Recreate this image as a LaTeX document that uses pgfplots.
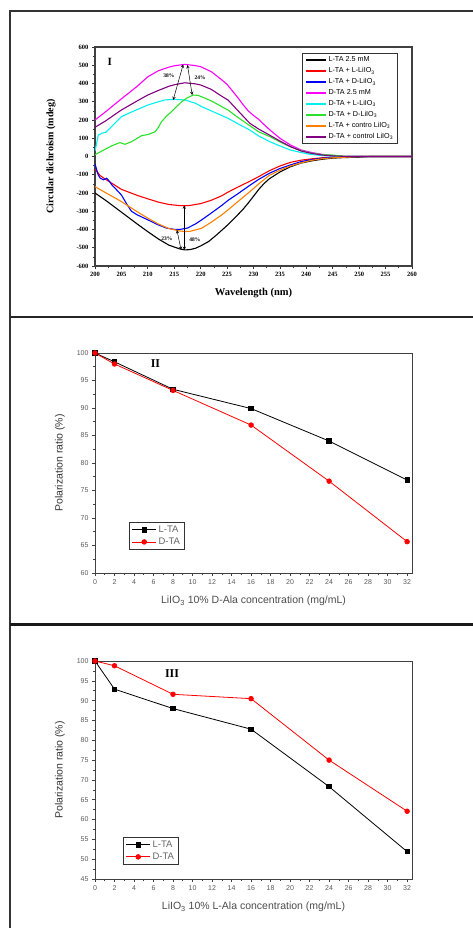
\documentclass[border=0pt]{standalone}
\usepackage{fontspec}
\setmainfont{Liberation Serif}
\setsansfont{Liberation Sans}
\usepackage{pgfplots}
\pgfplotsset{compat=1.18}
\definecolor{cdgreen}{RGB}{40,225,40}
\definecolor{cdorange}{RGB}{255,128,0}
\definecolor{cdpurple}{RGB}{128,0,128}
\definecolor{cdcyan}{RGB}{0,240,240}
\definecolor{cdmag}{RGB}{255,0,255}

\pgfplotsset{
  cdlegend/.style={
    legend image code/.code={\draw[##1, line width=2pt] (0pt,0pt) -- (20pt,0pt);}},
  pollegend/.style={
    legend image code/.code={
      \draw[mark repeat=2,mark phase=2,##1] plot coordinates {(0pt,0pt) (12pt,0pt) (24pt,0pt)};}},
  polstyle/.style={
    width=317pt, scale only axis, anchor=south west,
    xmin=0, xmax=32.5,
    xtick={0,2,...,32}, minor x tick num=1,
    minor y tick num=1,
    tick align=outside, tick pos=left,
    axis line style={line width=0.8pt, black!75},
    major tick length=3pt, minor tick length=1.8pt,
    every tick/.style={black!75, line width=0.6pt},
    tick label style={font=\fontsize{7}{8}\sffamily, text=black!65},
    /pgf/number format/assume math mode=true,
    xlabel style={font=\fontsize{10.5}{11}\sffamily, text=black!70,
      at={([yshift=-28pt]axis description cs:0.5,0)}, anchor=center},
    ylabel style={font=\fontsize{10.5}{11}\sffamily, text=black!80,
      at={([xshift=-35pt]axis description cs:0,0.5)}, anchor=center},
    legend style={font=\fontsize{9.5}{10}\sffamily, text=black!60, draw=black!80,
      fill=white, line width=0.8pt, inner xsep=2.5pt, inner ysep=1.5pt, row sep=0pt,
      cells={anchor=west}},
    pollegend,
  },
}

\begin{document}
\begin{tikzpicture}[x=1pt,y=1pt]
\useasboundingbox (0,0) rectangle (473,-928);
\draw[line width=1.4pt, black!80] (10,-928) -- (10,-11) -- (473,-11);
\draw[line width=2pt, black!85] (10,-317) -- (473,-317);
\draw[line width=3pt, black!90] (10,-624) -- (473,-624);

% ---------- panel I ----------
\begin{axis}[
  at={(95pt,-266pt)}, anchor=south west,
  width=317pt, height=219pt, scale only axis,
  xmin=200, xmax=260, ymin=-600, ymax=600,
  xtick={200,205,...,260}, ytick={-600,-500,...,600},
  minor x tick num=1, minor y tick num=1,
  tick align=outside, tick pos=left,
  axis line style={line width=1.2pt, black!75},
  major tick length=3pt, minor tick length=1.8pt,
  every tick/.style={black!80, line width=0.7pt},
  tick label style={font=\fontsize{6.5}{7}\selectfont\bfseries},
  /pgf/number format/assume math mode=true,
  xlabel={Wavelength (nm)}, ylabel={Circular dichroism (mdeg)},
  xlabel style={font=\fontsize{10.5}{11}\selectfont\bfseries,
    at={([yshift=-27pt]axis description cs:0.5,0)}, anchor=center},
  ylabel style={font=\fontsize{10}{11}\selectfont\bfseries,
    at={([xshift=-44pt]axis description cs:0,0.5)}, anchor=center},
  legend style={at={(axis description cs:0.653,0.973)}, anchor=north west,
    font=\fontsize{7.2}{7.5}\sffamily, draw=black!80, fill=white, line width=1pt,
    inner xsep=2pt, inner ysep=1.5pt, row sep=0.3pt, cells={anchor=west}},
  cdlegend,
]
\addplot[line width=1.1pt, black] coordinates {(200,-200)(202,-240)(205,-305)(208,-370)(210,-412)(212,-452)(214,-486)(216,-506)(217,-512)(218,-510)(219,-503)(220,-490)(221.5,-466)(223,-430)(225,-378)(227,-320)(228,-290)(229,-255)(230,-218)(231,-180)(232,-148)(233,-122)(235,-85)(237,-56)(239,-36)(241,-24)(243,-15)(245,-9)(247,-6)(250,-4)(251,-2)(252,0)(260,0)};
\addlegendentry{L-TA 2.5 mM}
\addplot[line width=1.1pt, red] coordinates {(200,-70)(201,-105)(202,-125)(205,-180)(208,-213)(210,-232)(212,-250)(214,-263)(216,-269)(217,-270)(218,-268)(220,-258)(222,-240)(224,-215)(225,-198)(227,-168)(229,-140)(231,-110)(233,-78)(235,-52)(237,-32)(239,-20)(241,-13)(243,-7)(245,-3)(247,0)(260,0)};
\addlegendentry{L-TA + L-LiIO\textsubscript{3}}
\addplot[line width=1.1pt, blue] coordinates {(200,-40)(200.3,-70)(200.6,-100)(201,-119)(201.6,-128)(202.2,-119)(202.7,-135)(203.2,-156)(204,-180)(205,-211)(206,-260)(206.9,-300)(208,-320)(210,-347)(212,-375)(213.5,-392)(215,-399)(216,-400)(217.5,-392)(219,-370)(220.2,-347)(222,-310)(224,-268)(225.2,-240)(227,-205)(229.3,-158)(231,-125)(233,-92)(235,-66)(237,-46)(239,-28)(241,-17)(243,-9)(245,-4)(247,-1)(248,0)(260,0)};
\addlegendentry{L-TA + D-LiIO\textsubscript{3}}
\addplot[line width=1.1pt, cdmag] coordinates {(200,200)(202,245)(205,316)(208,385)(210,437)(212,470)(214,490)(215,497)(217,505)(219,498)(220,492)(222,465)(224,420)(225,395)(227,324)(228,285)(229,250)(230,225)(231,203)(232,175)(233,148)(235,100)(237,63)(239,36)(241,22)(243,12)(245,5)(247,1)(248,0)(260,0)};
\addlegendentry{D-TA 2.5 mM}
\addplot[line width=1.1pt, cdcyan] coordinates {(200,30)(200.3,70)(200.6,117)(201.3,128)(202,132)(203,160)(205,218)(207,245)(210,282)(212,300)(213.2,310)(215,313)(217,310)(219,292)(220.2,273)(222,250)(225.2,209)(227,180)(229.3,145)(231,112)(233.1,81)(235,58)(236.9,36)(239,22)(240.7,12)(243,5)(245,2)(247,0)(260,0)};
\addlegendentry{D-TA + L-LiIO\textsubscript{3}}
\addplot[line width=1.1pt, cdgreen] coordinates {(200,10)(201.3,30)(203.2,59)(204.7,76)(205.7,67)(206.9,81)(208,100)(208.8,114)(210.1,121)(211.4,136)(212,160)(212.6,191)(213.5,220)(214.5,246)(215.5,275)(216.4,300)(217.5,322)(218.6,337)(219.5,335)(220.2,327)(222,305)(225.2,254)(227,215)(229.3,169)(231,135)(233.1,109)(235,80)(236.9,54)(239,32)(240.7,20)(243,10)(245,8)(247,2)(248,0)(260,0)};
\addlegendentry{D-TA + D-LiIO\textsubscript{3}}
\addplot[line width=1.1pt, cdorange] coordinates {(200,-165)(202,-198)(205,-247)(208,-303)(210,-338)(212,-370)(214,-395)(216,-408)(217,-411)(218,-410)(220.2,-393)(222,-360)(224,-320)(225.2,-292)(227,-248)(229.3,-193)(231,-150)(233,-103)(235,-75)(237,-52)(239,-35)(241,-21)(243,-12)(245,-7)(248,-3)(250,0)(260,0)};
\addlegendentry{L-TA + contro LiIO\textsubscript{3}}
\addplot[line width=1.1pt, cdpurple] coordinates {(200,160)(202,195)(205,255)(208,305)(210,337)(212,362)(214,385)(215,393)(217,404)(219,398)(220,392)(222,368)(224,330)(225.2,309)(227,253)(229.3,182)(231,150)(233,118)(235,85)(237,54)(239,30)(241,17)(243,8)(245,3)(247,1)(249,0)(260,0)};
\addlegendentry{D-TA + control LiIO\textsubscript{3}}
% annotations
\draw[<->, >=stealth, line width=0.5pt] (axis cs:216.7,505) -- (axis cs:214.8,310);
\draw[<->, >=stealth, line width=0.5pt] (axis cs:217.5,501) -- (axis cs:218.4,337);
\draw[<->, >=stealth, line width=0.5pt] (axis cs:216.9,-268) -- (axis cs:216.9,-512);
\draw[<->, >=stealth, line width=0.5pt] (axis cs:215.5,-403) -- (axis cs:216.3,-512);
\node[font=\fontsize{5.5}{6}\selectfont\bfseries] at (axis cs:214.0,443) {38\%};
\node[font=\fontsize{5.5}{6}\selectfont\bfseries] at (axis cs:219.9,430) {24\%};
\node[font=\fontsize{5.5}{6}\selectfont\bfseries] at (axis cs:213.6,-448) {23\%};
\node[font=\fontsize{5.5}{6}\selectfont\bfseries] at (axis cs:218.9,-457) {48\%};
\node[font=\fontsize{11}{12}\selectfont\bfseries] at (axis cs:202.8,518) {I};
\end{axis}

% ---------- panel II ----------
\begin{axis}[polstyle,
  at={(95pt,-573pt)}, height=220pt,
  ymin=60, ymax=100, ytick={60,65,...,100},
  xlabel={LiIO\textsubscript{3} 10\% D-Ala concentration (mg/mL)},
  ylabel={Polarization ratio (\%)},
  legend style={at={(axis description cs:0.107,0.232)}, anchor=north west},
]
\addplot[black, line width=0.8pt, mark=square*, mark size=2.2pt] coordinates {(0,100)(2,98.4)(8,93.4)(16,89.9)(24,84.0)(32,76.9)};
\addlegendentry{L-TA}
\addplot[red, line width=0.8pt, mark=*, mark size=2.3pt] coordinates {(0,100)(2,98.0)(8,93.2)(16,86.9)(24,76.7)(32,65.7)};
\addlegendentry{D-TA}
\node[font=\fontsize{12}{13}\selectfont\bfseries] at (axis cs:6.2,98.1) {II};
\end{axis}

% ---------- panel III ----------
\begin{axis}[polstyle,
  at={(95pt,-879pt)}, height=218pt,
  ymin=45, ymax=100, ytick={45,50,...,100},
  xlabel={LiIO\textsubscript{3} 10\% L-Ala concentration (mg/mL)},
  ylabel={Polarization ratio (\%)},
  legend style={at={(axis description cs:0.088,0.193)}, anchor=north west},
]
\addplot[black, line width=0.8pt, mark=square*, mark size=2.2pt] coordinates {(0,100)(2,92.9)(8,88.0)(16,82.8)(24,68.3)(32,51.9)};
\addlegendentry{L-TA}
\addplot[red, line width=0.8pt, mark=*, mark size=2.3pt] coordinates {(0,100)(2,98.8)(8,91.6)(16,90.5)(24,75.0)(32,62.1)};
\addlegendentry{D-TA}
\node[font=\fontsize{12}{13}\selectfont\bfseries] at (axis cs:7.9,96.8) {III};
\end{axis}
\end{tikzpicture}
\end{document}
